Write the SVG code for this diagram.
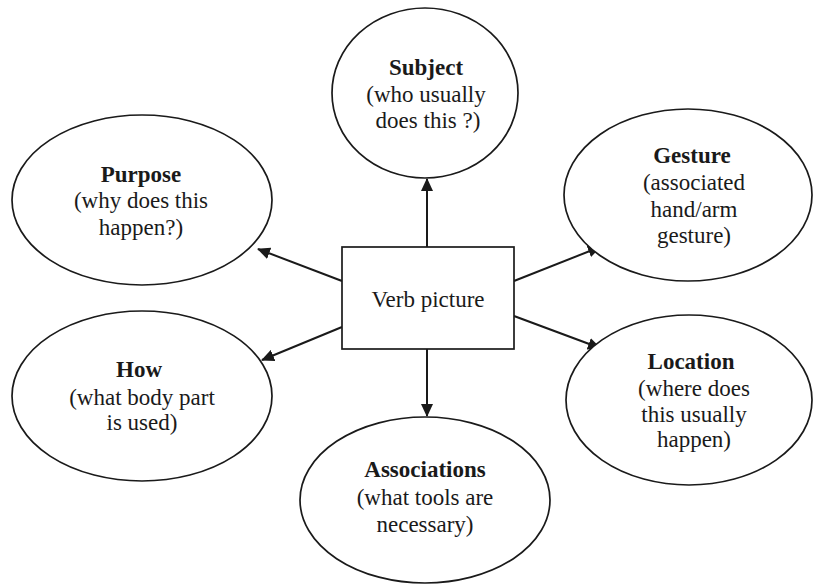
<svg xmlns="http://www.w3.org/2000/svg" width="816" height="586" viewBox="0 0 816 586">
<style>
.node ellipse, .node rect { fill: #ffffff; stroke: #1a1a1a; stroke-width: 1.7; }
text { font-family: "Liberation Serif", "Times New Roman", serif; font-size: 23px; fill: #1a1a1a; text-anchor: middle; }
.t { font-weight: bold; }
.conn line { stroke: #1a1a1a; stroke-width: 2; marker-end: url(#ah); }
</style>
<defs>
<marker id="ah" markerWidth="14" markerHeight="12" refX="12" refY="6" orient="auto" markerUnits="userSpaceOnUse">
<path d="M0,0 L13,6 L0,12 Z" fill="#1a1a1a"/>
</marker>
</defs>
<rect width="816" height="586" fill="#ffffff"/>
<g id="connectors" class="conn">
<line x1="427" y1="247" x2="427" y2="179"/>
<line x1="427" y1="349" x2="427" y2="416"/>
<line x1="342" y1="281" x2="258" y2="249"/>
<line x1="342" y1="327" x2="262" y2="360"/>
<line x1="514" y1="281" x2="600" y2="247"/>
<line x1="514" y1="316" x2="600" y2="348"/>
</g>
<g id="subject" class="node">
<ellipse cx="425" cy="93" rx="93" ry="85"/>
<text x="426" y="75" class="t">Subject</text>
<text x="426" y="102">(who usually</text>
<text x="428" y="128">does this ?)</text>
</g>
<g id="purpose" class="node">
<ellipse cx="142" cy="200" rx="130" ry="85"/>
<text x="141" y="182" class="t">Purpose</text>
<text x="141" y="208">(why does this</text>
<text x="141" y="235">happen?)</text>
</g>
<g id="gesture" class="node">
<ellipse cx="688" cy="195" rx="124" ry="86"/>
<text x="692" y="163" class="t">Gesture</text>
<text x="694" y="190">(associated</text>
<text x="694" y="217">hand/arm</text>
<text x="694" y="243">gesture)</text>
</g>
<g id="verb" class="node">
<rect x="342" y="247" width="172" height="102"/>
<text x="428" y="307">Verb picture</text>
</g>
<g id="how" class="node">
<ellipse cx="142" cy="396" rx="130" ry="85"/>
<text x="139" y="377" class="t">How</text>
<text x="142" y="405">(what body part</text>
<text x="142" y="430">is used)</text>
</g>
<g id="location" class="node">
<ellipse cx="689" cy="400" rx="123" ry="85"/>
<text x="691" y="369" class="t">Location</text>
<text x="694" y="396">(where does</text>
<text x="694" y="422">this usually</text>
<text x="694" y="447">happen)</text>
</g>
<g id="associations" class="node">
<ellipse cx="425" cy="500" rx="125" ry="83"/>
<text x="425" y="477" class="t">Associations</text>
<text x="425" y="505">(what tools are</text>
<text x="425" y="532">necessary)</text>
</g>
</svg>
